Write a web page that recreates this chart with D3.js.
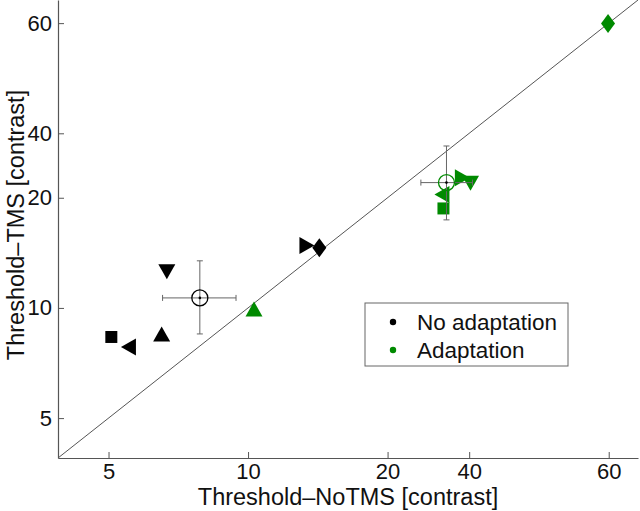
<!DOCTYPE html>
<html>
<head>
<meta charset="utf-8">
<script src="https://cdn.jsdelivr.net/npm/d3@7"></script>
<style>
  body { margin: 0; background: #fff; }
  text { font-family: "Liberation Sans", Arial, sans-serif; }
</style>
</head>
<body>
<div id="chart"></div>
<script>
// data (log axes)
var shapes = ["square", "left", "up", "down", "right", "diamond"];

var noAdaptX = [5.07, 5.52, 6.51, 6.68, 13.4, 14.25];
var noAdaptY = [8.33, 7.82, 8.49, 12.56, 14.8, 14.6];

var adaptX = [26.4, 26.2, 10.3, 30.2, 29.0, 59.8];
var adaptY = [18.7, 20.4, 9.94, 21.9, 22.7, 59.9];

// group means with error bars: [x, y, xLow, xHigh, yLow, yHigh]
var noAdaptMean = [7.87, 10.65, 6.54, 9.42, 8.49, 13.45];
var adaptMean = [26.8, 22.0, 23.6, 30.5, 17.4, 27.7];

var tickValues = [5, 10, 20, 30, 60];
var tickLabels = ["5", "10", "20", "40", "60"];

var seriesNames = ["No adaptation", "Adaptation"];
var seriesColors = ["#000000", "#008a00"];

var svgWidth = 640, svgHeight = 511;
var margin = { top: 0, right: 2, bottom: 53, left: 58 };
var width = svgWidth - margin.left - margin.right;
var height = svgHeight - margin.top - margin.bottom;

var svg = d3.select("#chart").append("svg")
  .attr("width", svgWidth)
  .attr("height", svgHeight);

var chartGroup = svg.append("g")
  .attr("transform", `translate(${margin.left}, ${margin.top})`);

var xScale = d3.scaleLog().domain([3.89, 69.4]).range([0, width]);
var yScale = d3.scaleLog().domain([3.89, 69.4]).range([height, 0]);

var axisColor = "#555";

// axes
var bottomAxis = d3.axisBottom(xScale)
  .tickValues(tickValues)
  .tickFormat((d, i) => tickLabels[i])
  .tickSizeInner(-6)
  .tickSizeOuter(0)
  .tickPadding(5);
var leftAxis = d3.axisLeft(yScale)
  .tickValues(tickValues)
  .tickFormat((d, i) => tickLabels[i])
  .tickSizeInner(-6)
  .tickSizeOuter(0)
  .tickPadding(6);

var gx = chartGroup.append("g")
  .attr("transform", `translate(0, ${height})`)
  .call(bottomAxis);
var gy = chartGroup.append("g").call(leftAxis);

[gx, gy].forEach(function (g) {
  g.select(".domain").attr("stroke", axisColor).attr("stroke-width", 1.2);
  g.selectAll(".tick line").attr("stroke", axisColor);
  g.selectAll(".tick text")
    .attr("fill", "#111")
    .style("font-size", "22px")
    .style("font-family", "'Liberation Sans', Arial, sans-serif");
});

// identity line
var dom = xScale.domain();
chartGroup.append("line")
  .attr("x1", xScale(dom[0])).attr("y1", yScale(dom[0]))
  .attr("x2", xScale(dom[1])).attr("y2", yScale(dom[1]))
  .attr("stroke", "#555")
  .attr("stroke-width", 1);

// marker shapes
function markerPath(shape) {
  var w = 8.5, h = 7.5;
  switch (shape) {
    case "square": return "M-6,-6H6V6H-6Z";
    case "up": return `M0,${-h}L${w},${h}L${-w},${h}Z`;
    case "down": return `M0,${h}L${w},${-h}L${-w},${-h}Z`;
    case "left": return `M${-h},0L${h},${-w}L${h},${w}Z`;
    case "right": return `M${h},0L${-h},${-w}L${-h},${w}Z`;
    case "diamond": return "M0,-9.5L7,0L0,9.5L-7,0Z";
  }
}

function drawSeries(xs, ys, color) {
  chartGroup.append("g")
    .selectAll("path")
    .data(xs.map((x, i) => ({ x: x, y: ys[i], shape: shapes[i] })))
    .enter()
    .append("path")
    .attr("d", d => markerPath(d.shape))
    .attr("transform", d => `translate(${xScale(d.x)}, ${yScale(d.y)})`)
    .attr("fill", color);
}

drawSeries(noAdaptX, noAdaptY, seriesColors[0]);
drawSeries(adaptX, adaptY, seriesColors[1]);

// means with error bars
function drawMean(m, color) {
  var g = chartGroup.append("g");
  var cx = xScale(m[0]), cy = yScale(m[1]);
  var x0 = xScale(m[2]), x1 = xScale(m[3]);
  var y0 = yScale(m[4]), y1 = yScale(m[5]);
  var cap = 3;
  var barColor = "#666";
  g.append("line").attr("x1", x0).attr("x2", x1).attr("y1", cy).attr("y2", cy)
    .attr("stroke", barColor);
  g.append("line").attr("x1", cx).attr("x2", cx).attr("y1", y0).attr("y2", y1)
    .attr("stroke", barColor);
  // caps
  [x0, x1].forEach(function (x) {
    g.append("line").attr("x1", x).attr("x2", x).attr("y1", cy - cap).attr("y2", cy + cap)
      .attr("stroke", barColor);
  });
  [y0, y1].forEach(function (y) {
    g.append("line").attr("x1", cx - cap).attr("x2", cx + cap).attr("y1", y).attr("y2", y)
      .attr("stroke", barColor);
  });
  g.append("circle").attr("cx", cx).attr("cy", cy).attr("r", 8)
    .attr("fill", "none").attr("stroke", color).attr("stroke-width", 1.3);
  g.append("circle").attr("cx", cx).attr("cy", cy).attr("r", 1.3)
    .attr("fill", "#000");
}

drawMean(noAdaptMean, seriesColors[0]);
drawMean(adaptMean, seriesColors[1]);

// axis titles
svg.append("text")
  .attr("x", margin.left + width / 2)
  .attr("y", 505)
  .attr("text-anchor", "middle")
  .style("font-size", "23.5px")
  .attr("fill", "#111")
  .text("Threshold\u2013NoTMS [contrast]");

svg.append("text")
  .attr("transform", `translate(24, 225) rotate(-90)`)
  .attr("text-anchor", "middle")
  .style("font-size", "23.5px")
  .attr("fill", "#111")
  .text("Threshold\u2013TMS [contrast]");

// legend
var legend = svg.append("g").attr("transform", "translate(365, 303)");
legend.append("rect")
  .attr("width", 203).attr("height", 63)
  .attr("fill", "#fff")
  .attr("stroke", "#666")
  .attr("stroke-width", 1);

seriesNames.forEach(function (name, i) {
  legend.append("circle")
    .attr("cx", 28).attr("cy", 19 + i * 28)
    .attr("r", 3.2)
    .attr("fill", seriesColors[i]);
  legend.append("text")
    .attr("x", 52).attr("y", 19 + i * 28)
    .attr("dy", "0.36em")
    .style("font-size", "22.5px")
    .attr("fill", "#111")
    .text(name);
});
</script>
</body>
</html>
